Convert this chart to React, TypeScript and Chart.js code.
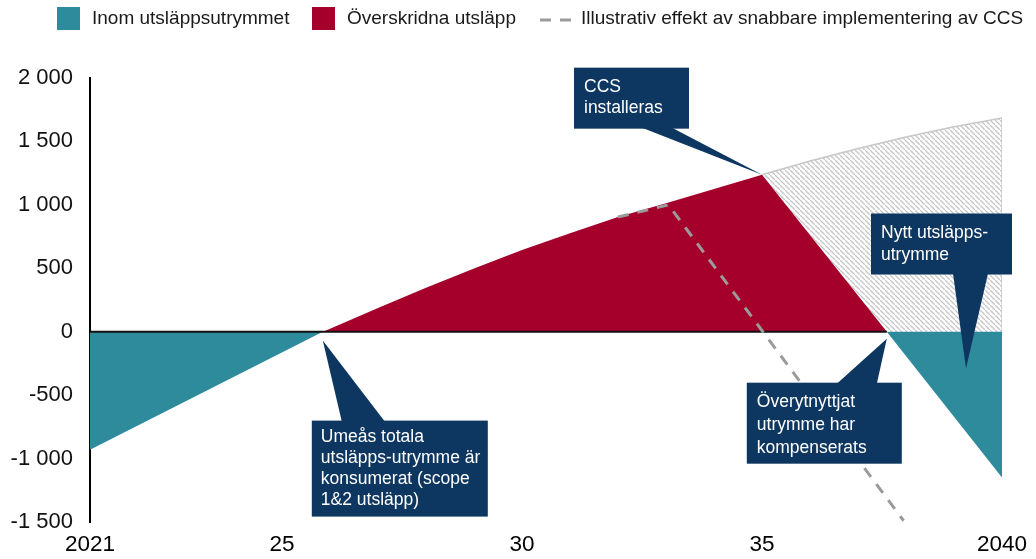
import React, { useEffect, useRef } from "react";
import { Chart, registerables } from "chart.js";

Chart.register(...registerables);

// ---- data ----
const legendLabels = [
  "Inom utsläppsutrymmet",
  "Överskridna utsläpp",
  "Illustrativ effekt av snabbare implementering av CCS",
];

const withinStartX = [2021, 2025.85];
const withinStartY = [-930, 0];

const exceededX = [2025.85, 2026, 2027, 2028, 2029, 2030, 2031, 2032, 2033, 2034, 2035, 2037.6];
const exceededY = [0, 24, 186, 347, 499, 644, 777, 904, 1013, 1125, 1238, 0];

const potentialX = [2035, 2036, 2037, 2038, 2039, 2040, 2040];
const potentialY = [1238, 1345, 1445, 1535, 1615, 1685, 0];

const withinEndX = [2037.6, 2040];
const withinEndY = [0, -1150];

const ccsX = [2032, 2033.05, 2037.95];
const ccsY = [904, 1000, -1490];

const zeroX = [2021, 2037.6];
const zeroY = [0, 0];

const xTickValues = [2021, 2025, 2030, 2035, 2040];
const xTickLabels = ["2021", "25", "30", "35", "2040"];

const callouts = [
  { lines: ["CCS", "installeras"], tipX: 2035, tipY: 1238, dx: -188, dy: -107, w: 115, h: 61, base: [68, 98], side: "bottom", tx: 10, ty: 20, lh: 21 },
  { lines: ["Nytt utsläpps-", "utrymme"], tipX: 2039.25, tipY: -290, dx: -95, dy: -155, w: 141, h: 61, base: [82, 117], side: "bottom", tx: 10, ty: 20, lh: 22 },
  { lines: ["Umeås totala", "utsläpps-utrymme är", "konsumerat (scope", "1&2 utsläpp)"], tipX: 2025.85, tipY: -70, dx: -11, dy: 80, w: 176, h: 96, base: [30, 73], side: "top", tx: 9, ty: 17, lh: 21 },
  { lines: ["Överytnyttjat", "utrymme har", "kompenserats"], tipX: 2037.6, tipY: -55, dx: -140, dy: 44, w: 155, h: 81, base: [90, 130], side: "top", tx: 10, ty: 19, lh: 23 },
];

const TEAL = "#2e8b9c";
const RED = "#a5002b";
const NAVY = "#0d3660";
const DASH = "#9b9b9b";
const FONT = "'Liberation Sans', Arial, sans-serif";

const pts = (xs: number[], ys: number[]) => xs.map((x, i) => ({ x, y: ys[i] }));

function makeHatch(): CanvasPattern | string {
  const n = 5;
  const c = document.createElement("canvas");
  c.width = n;
  c.height = n;
  const g = c.getContext("2d");
  if (!g) return "#ddd";
  g.fillStyle = "#ffffff";
  g.fillRect(0, 0, n, n);
  g.strokeStyle = "#c6c6c6";
  g.lineWidth = 1.3;
  g.beginPath();
  g.moveTo(-1, -1);
  g.lineTo(n + 1, n + 1);
  g.stroke();
  const p = g.createPattern(c, "repeat");
  return p || "#ddd";
}

const overlayPlugin = {
  id: "overlay",
  afterDatasetsDraw(chart: any) {
    const ctx = chart.ctx as CanvasRenderingContext2D;
    const xs = chart.scales.x;
    const ys = chart.scales.y;
    ctx.save();
    for (const c of callouts) {
      const px = xs.getPixelForValue(c.tipX);
      const py = ys.getPixelForValue(c.tipY);
      const left = px + c.dx;
      const top = py + c.dy;
      ctx.fillStyle = NAVY;
      ctx.beginPath();
      const by = c.side === "bottom" ? top + c.h - 1 : top + 1;
      ctx.moveTo(left + c.base[0], by);
      ctx.lineTo(px, py);
      ctx.lineTo(left + c.base[1], by);
      ctx.closePath();
      ctx.fill();
      ctx.fillRect(left, top, c.w, c.h);
      ctx.fillStyle = "#ffffff";
      ctx.font = `17.5px ${FONT}`;
      ctx.textBaseline = "middle";
      ctx.textAlign = "left";
      c.lines.forEach((ln, i) => {
        ctx.fillText(ln, left + c.tx, top + c.ty + i * c.lh);
      });
    }
    ctx.restore();
  },
  afterDraw(chart: any) {
    const ctx = chart.ctx as CanvasRenderingContext2D;
    ctx.save();
    ctx.font = `19px ${FONT}`;
    ctx.textBaseline = "middle";
    ctx.textAlign = "left";
    const cy = 19;
    ctx.fillStyle = TEAL;
    ctx.fillRect(57, 7, 23, 23);
    ctx.fillStyle = "#1a1a1a";
    ctx.fillText(legendLabels[0], 92, cy);
    ctx.fillStyle = RED;
    ctx.fillRect(312, 7, 23, 23);
    ctx.fillStyle = "#1a1a1a";
    ctx.fillText(legendLabels[1], 347, cy);
    ctx.strokeStyle = DASH;
    ctx.lineWidth = 3;
    ctx.setLineDash([11, 9]);
    ctx.beginPath();
    ctx.moveTo(540, cy + 1);
    ctx.lineTo(576, cy + 1);
    ctx.stroke();
    ctx.setLineDash([]);
    ctx.fillStyle = "#1a1a1a";
    ctx.fillText(legendLabels[2], 581, cy);
    ctx.restore();
  },
};

export default function App() {
  const ref = useRef<HTMLCanvasElement | null>(null);
  useEffect(() => {
    if (!ref.current) return;
    const hatch = makeHatch();
    const chart = new Chart(ref.current, {
      type: "line",
      data: {
        datasets: [
          { label: "ccs", data: pts(ccsX, ccsY), borderColor: DASH, borderWidth: 3, borderDash: [11, 9], fill: false, pointRadius: 0, order: 0, tension: 0 },
          { label: "zero", data: pts(zeroX, zeroY), borderColor: "#111", borderWidth: 2, fill: false, pointRadius: 0, order: 1 },
          { label: legendLabels[0], data: pts(withinStartX, withinStartY), borderColor: TEAL, borderWidth: 0, backgroundColor: TEAL, fill: "origin", pointRadius: 0, order: 2 },
          { label: "end", data: pts(withinEndX, withinEndY), borderColor: TEAL, borderWidth: 0, backgroundColor: TEAL, fill: "origin", pointRadius: 0, order: 2 },
          { label: legendLabels[1], data: pts(exceededX, exceededY), borderColor: RED, borderWidth: 0, backgroundColor: RED, fill: "origin", pointRadius: 0, order: 3, tension: 0 },
          { label: "potential", data: pts(potentialX, potentialY), borderColor: "#c8c8c8", borderWidth: 1.5, backgroundColor: hatch as any, fill: "origin", pointRadius: 0, order: 5 },
        ],
      },
      options: {
        animation: false,
        responsive: false,
        maintainAspectRatio: false,
        layout: { padding: { top: 78, right: 34, left: 0, bottom: 0 } },
        plugins: { legend: { display: false }, tooltip: { enabled: false } },
        scales: {
          x: {
            type: "linear",
            min: 2021,
            max: 2040,
            grid: { display: false },
            border: { display: false },
            afterBuildTicks: (s: any) => {
              s.ticks = xTickValues.map((v) => ({ value: v }));
            },
            afterFit: (s: any) => {
              s.height = 37;
            },
            ticks: {
              autoSkip: false,
              maxRotation: 0,
              padding: 1,
              color: "#000",
              font: { family: FONT, size: 22.5 },
              callback: (v: any) => {
                const i = xTickValues.indexOf(Number(v));
                return i >= 0 ? xTickLabels[i] : "";
              },
            },
          },
          y: {
            min: -1500,
            max: 2000,
            grid: { display: true, drawOnChartArea: false, drawTicks: false },
            border: { display: true, color: "#000", width: 2 },
            afterFit: (s: any) => {
              s.width = 90;
            },
            ticks: {
              stepSize: 500,
              padding: 17,
              color: "#111",
              font: { family: FONT, size: 22 },
              callback: (v: any) => {
                const n = Number(v);
                const abs = Math.abs(n);
                const s = abs >= 1000 ? `${Math.floor(abs / 1000)} ${String(abs % 1000).padStart(3, "0")}` : String(abs);
                return n < 0 ? `-${s}` : s;
              },
            },
          },
        },
      },
      plugins: [overlayPlugin],
    });
    return () => chart.destroy();
  }, []);
  return (
    <div style={{ position: "fixed", left: 0, top: 0, width: 1036, height: 559, background: "#fff" }}>
      <canvas ref={ref} width={1036} height={559} style={{ width: 1036, height: 559, display: "block" }} />
    </div>
  );
}
